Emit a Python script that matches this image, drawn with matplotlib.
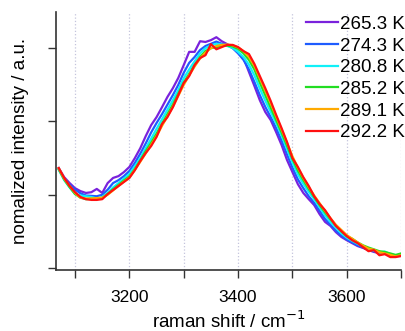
import matplotlib
matplotlib.use('Agg')
import matplotlib.pyplot as plt
from matplotlib.ticker import MultipleLocator

plt.rcParams['font.family'] = ['Liberation Sans', 'DejaVu Sans']

# raman shift axis (cm-1)
shift = list(range(3070, 3701, 10))

# normalized intensity, one list per temperature
t265 = [0.473, 0.448, 0.432, 0.418, 0.410, 0.405, 0.407, 0.416, 0.405, 0.432, 0.446, 0.451, 0.462, 0.476, 0.500, 0.527,
        0.560, 0.590, 0.612, 0.639, 0.667, 0.691, 0.719, 0.754, 0.790, 0.790, 0.819, 0.817, 0.822, 0.830, 0.819, 0.811,
        0.803, 0.787, 0.773, 0.735, 0.697, 0.658, 0.626, 0.604, 0.571, 0.536, 0.495, 0.462, 0.429, 0.405, 0.388, 0.372,
        0.347, 0.326, 0.315, 0.298, 0.285, 0.276, 0.268, 0.260, 0.255, 0.249, 0.244, 0.241, 0.241, 0.235, 0.233, 0.233]
t274 = [0.470, 0.444, 0.428, 0.414, 0.404, 0.398, 0.397, 0.396, 0.400, 0.414, 0.432, 0.440, 0.451, 0.465, 0.487, 0.512,
        0.540, 0.570, 0.596, 0.620, 0.646, 0.672, 0.700, 0.733, 0.760, 0.776, 0.795, 0.806, 0.812, 0.818, 0.812, 0.808,
        0.800, 0.786, 0.768, 0.742, 0.708, 0.672, 0.640, 0.612, 0.582, 0.548, 0.510, 0.474, 0.442, 0.418, 0.396, 0.378,
        0.356, 0.334, 0.318, 0.302, 0.289, 0.278, 0.270, 0.262, 0.256, 0.250, 0.246, 0.242, 0.240, 0.236, 0.234, 0.236]
t281 = [0.468, 0.440, 0.420, 0.402, 0.398, 0.396, 0.394, 0.390, 0.394, 0.405, 0.420, 0.432, 0.444, 0.457, 0.478, 0.500,
        0.527, 0.553, 0.580, 0.606, 0.632, 0.658, 0.686, 0.718, 0.742, 0.764, 0.786, 0.800, 0.808, 0.812, 0.810, 0.806,
        0.801, 0.790, 0.776, 0.755, 0.726, 0.690, 0.657, 0.626, 0.596, 0.562, 0.525, 0.488, 0.456, 0.430, 0.408, 0.388,
        0.366, 0.344, 0.326, 0.310, 0.295, 0.283, 0.274, 0.266, 0.259, 0.252, 0.248, 0.243, 0.245, 0.238, 0.234, 0.237]
t285 = [0.470, 0.442, 0.421, 0.402, 0.392, 0.388, 0.389, 0.389, 0.391, 0.402, 0.415, 0.427, 0.439, 0.450, 0.470, 0.494,
        0.519, 0.542, 0.567, 0.594, 0.620, 0.646, 0.676, 0.706, 0.730, 0.754, 0.776, 0.792, 0.800, 0.803, 0.806, 0.807,
        0.805, 0.798, 0.786, 0.768, 0.742, 0.706, 0.672, 0.638, 0.604, 0.570, 0.534, 0.498, 0.466, 0.440, 0.416, 0.394,
        0.372, 0.352, 0.333, 0.316, 0.300, 0.287, 0.280, 0.270, 0.262, 0.256, 0.251, 0.246, 0.244, 0.240, 0.236, 0.240]
t289 = [0.472, 0.444, 0.424, 0.405, 0.392, 0.390, 0.390, 0.391, 0.392, 0.400, 0.412, 0.424, 0.436, 0.447, 0.468, 0.490,
        0.513, 0.536, 0.560, 0.588, 0.614, 0.640, 0.670, 0.700, 0.726, 0.750, 0.772, 0.788, 0.800, 0.806, 0.809, 0.810,
        0.808, 0.802, 0.792, 0.776, 0.752, 0.718, 0.684, 0.650, 0.614, 0.578, 0.542, 0.505, 0.474, 0.446, 0.421, 0.398,
        0.377, 0.356, 0.336, 0.318, 0.304, 0.290, 0.280, 0.270, 0.261, 0.253, 0.250, 0.243, 0.240, 0.236, 0.232, 0.235]
t292 = [0.473, 0.446, 0.424, 0.407, 0.394, 0.388, 0.386, 0.386, 0.388, 0.402, 0.413, 0.424, 0.435, 0.446, 0.467, 0.492,
        0.514, 0.533, 0.558, 0.593, 0.612, 0.639, 0.672, 0.705, 0.724, 0.754, 0.773, 0.781, 0.811, 0.797, 0.803, 0.809,
        0.809, 0.803, 0.792, 0.784, 0.757, 0.724, 0.691, 0.656, 0.618, 0.582, 0.544, 0.500, 0.476, 0.448, 0.424, 0.396,
        0.375, 0.358, 0.336, 0.315, 0.301, 0.287, 0.276, 0.268, 0.257, 0.246, 0.249, 0.235, 0.238, 0.230, 0.230, 0.233]

labels = ['265.3 K', '274.3 K', '280.8 K', '285.2 K', '289.1 K', '292.2 K']
colors = ['#7a22dc', '#1e5cff', '#10f0f8', '#22dd22', '#ffaa00', '#ff1010']

fig = plt.figure(figsize=(4.06, 3.31), dpi=100)
ax = fig.add_axes([0.138, 0.184, 0.850, 0.780])

for y, lab, c in zip([t265, t274, t281, t285, t289, t292], labels, colors):
    ax.plot(shift, y, color=c, lw=1.6, label=lab)

ax.set_xlim(3065, 3700)
ax.set_ylim(0.1945, 0.899)

# ticks: labelled every 200, plain tick every 100, dotted grid every 100
ax.xaxis.set_major_locator(MultipleLocator(200))
ax.xaxis.set_minor_locator(MultipleLocator(100))
ax.set_yticks([0.2, 0.4, 0.6, 0.8])
ax.set_yticklabels([])
ax.tick_params(axis='x', which='both', direction='out', length=6, width=1, labelsize=12.5, pad=8, color='#333333')
ax.tick_params(axis='y', direction='out', length=6, width=1, color='#333333')
ax.grid(axis='x', which='both', color='#c4c4dc', linestyle=':', lw=0.9)
ax.set_axisbelow(True)

for s in ['top', 'right']:
    ax.spines[s].set_visible(False)
for s in ['left', 'bottom']:
    ax.spines[s].set_linewidth(1.2)
    ax.spines[s].set_color('#333333')

ax.set_xlabel('raman shift / cm$^{-1}$', fontsize=13.5, labelpad=4)
ax.set_ylabel('nomalized intensity / a.u.', fontsize=13.5, labelpad=10)

fig.legend(loc='upper right', bbox_to_anchor=(0.998, 0.952), frameon=False, fontsize=13.5,
           handlelength=1.75, handletextpad=0.1, labelspacing=0.24, borderaxespad=0, borderpad=0)

plt.savefig('out.png', dpi=100)
